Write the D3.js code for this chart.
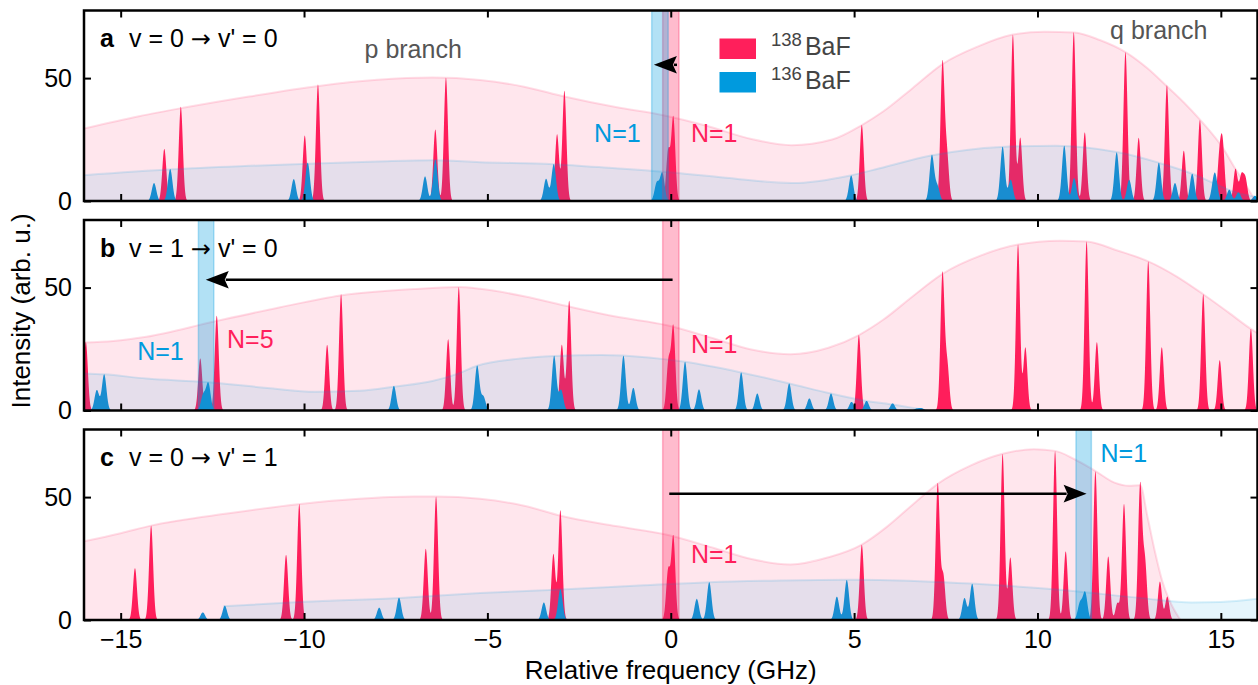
<!DOCTYPE html>
<html>
<head>
<meta charset="utf-8">
<script src="https://cdn.jsdelivr.net/npm/d3@7"></script>
<style>
  body { margin: 0; background: #fff; }
  svg { display: block; font-family: 'Liberation Sans', Arial, sans-serif; }
</style>
</head>
<body>
<svg id="chart" width="1258" height="685"></svg>
<script>
// axis ticks and panel titles
const xTicks = [-15, -10, -5, 0, 5, 10, 15]
const yTicks = [0, 50]
const panelLetters = ['a', 'b', 'c']
const panelTitles = [["v = 0 ", "v' = 0"], ["v = 1 ", "v' = 0"], ["v = 0 ", "v' = 1"]]

// line positions (GHz) and peak heights (arb. u.), 138BaF
const peaks138a = [[-13.81, 21.2], [-13.36, 38.3], [-9.98, 26.6], [-9.62, 47.4], [-6.42, 29.1], [-6.13, 50.2],
    [-3.10, 27.1], [-2.90, 44.8], [-0.07, 20.1], [0.07, 33.8], [5.21, 30.9], [7.41, 55.6], [7.53, 18.3],
    [9.33, 67.6], [9.53, 25.7], [10.99, 68.7], [11.29, 27.9], [12.40, 60.6], [12.76, 25.7], [13.53, 47.1],
    [13.99, 20.5], [14.43, 32.9], [14.96, 16.0], [15.05, 21.7], [15.40, 13.0], [15.56, 10.0], [15.67, 8.8]]
const peaks138b = [[-15.95, 27.8], [-12.83, 21.2], [-12.38, 38.5], [-9.37, 26.7], [-8.99, 47.3], [-6.07, 29.0],
    [-5.78, 50.2], [-2.97, 26.7], [-2.77, 44.6], [-0.06, 19.8], [0.07, 33.7], [5.13, 30.7], [7.41, 55.5],
    [7.54, 18.1], [9.47, 67.5], [9.67, 25.6], [11.34, 68.8], [11.62, 27.8], [13.02, 60.7], [13.39, 25.7],
    [14.52, 47.3], [14.97, 20.5], [15.82, 33.2]]
const peaks138c = [[-14.61, 21.1], [-14.17, 38.4], [-10.49, 26.5], [-10.13, 47.2], [-6.68, 29.0], [-6.40, 50.2],
    [-3.20, 26.8], [-3.01, 44.6], [-0.07, 20.0], [0.07, 33.8], [5.21, 30.6], [7.28, 55.4], [7.43, 18.0],
    [9.05, 67.6], [9.26, 25.4], [10.48, 68.7], [10.77, 27.9], [11.58, 60.5], [11.93, 25.8], [12.18, 6.8],
    [12.36, 47.2], [12.80, 54.7], [12.93, 23.4], [13.34, 15.6], [13.54, 9.5]]

// 136BaF
const peaks136a = [[-14.09, 7.3], [-13.65, 13.0], [-10.28, 8.9], [-9.90, 15.6], [-6.70, 10.0], [-6.42, 16.7],
    [-3.40, 9.0], [-3.19, 15.0], [-0.38, 7.3], [-0.23, 11.3], [4.92, 10.4], [7.12, 18.5], [7.27, 5.9],
    [9.05, 22.1], [9.27, 8.6], [10.73, 22.5], [11.00, 9.3], [12.16, 19.8], [12.50, 8.6], [13.31, 15.6],
    [13.75, 7.3], [14.22, 11.1], [14.80, 5.7], [14.86, 7.3], [15.23, 4.6], [15.48, 3.5], [15.93, 2.1]]
const peaks136b = [[-15.65, 8.3], [-15.45, 14.7], [-12.75, 6.2], [-12.61, 11.0], [-7.55, 10.0], [-5.28, 18.2],
    [-5.11, 5.6], [-3.18, 22.2], [-2.99, 8.3], [-1.29, 22.3], [-1.02, 9.2], [0.39, 19.8], [0.77, 8.6],
    [1.92, 15.5], [2.36, 6.9], [3.23, 11.0], [3.78, 4.9], [4.37, 6.9], [4.93, 3.5], [5.34, 3.9],
    [6.05, 2.9], [6.71, 0.8], [6.84, 0.9]]
const peaks136c = [[-12.76, 3.1], [-12.16, 5.8], [-7.95, 5.0], [-7.41, 9.1], [-3.46, 7.1], [-3.01, 12.5],
    [0.71, 8.6], [1.05, 15.4], [4.53, 9.5], [4.80, 16.3], [8.01, 8.9], [8.22, 14.7], [11.16, 6.8], [11.30, 11.1]]

// simulated envelopes (GHz, arb. u.)
const env138a = [[-16, 29.5], [-14.5, 34.5], [-13.3, 37.9], [-11.5, 42.5], [-9.6, 46.8], [-8, 49.3], [-6.5, 50.2],
    [-5.2, 49.2], [-4, 46.5], [-2.9, 42.5], [-1.5, 38.2], [-0.2, 34.9], [1, 30.5], [2.2, 25.2], [3.3, 22.7],
    [4.4, 25], [5.2, 30.8], [5.8, 36.5], [6.6, 46], [7.4, 55.6], [8.4, 63], [9.3, 67.6], [10.2, 68.9],
    [11, 68.6], [11.7, 65.5], [12.4, 60.6], [13.0, 54], [13.5, 47.1], [14.0, 40], [14.45, 32.8],
    [15.05, 21.7], [15.4, 13], [15.7, 6], [15.95, 0]]
const env136a = [[-16, 10.5], [-13.6, 12.9], [-11.5, 14.3], [-9.7, 15.3], [-8, 16.1], [-6.5, 16.6], [-5.2, 15.8],
    [-3.2, 15], [-1.5, 13.3], [-0.2, 11.9], [1.5, 9.5], [3.3, 7.3], [4.9, 10.4], [5.7, 13.3], [7.1, 18.5],
    [9.0, 22], [10.5, 22.5], [12.2, 19.8], [13.3, 15.6], [14.2, 11.2], [14.8, 7.3], [15.4, 3.6], [16, 1.5]]
const env138b = [[-16, 27.7], [-15.2, 28.3], [-14.3, 30], [-12.45, 36.2], [-10.65, 42], [-9.0, 46.8], [-7.0, 49.4],
    [-5.8, 50.2], [-5.2, 49.5], [-4, 46.5], [-2.77, 42.3], [-1.5, 38.2], [-0.1, 34.7], [1.2, 29.2], [2.2, 24.8],
    [3.26, 22.9], [4.3, 25.5], [5.13, 30.7], [5.8, 37], [6.6, 46.5], [7.4, 55.5], [8.5, 63.3], [9.47, 67.5],
    [10.6, 69.1], [11.34, 68.8], [12.2, 65], [13.02, 60.7], [13.8, 54.5], [14.52, 47.3], [15.2, 40],
    [15.82, 33.2], [16, 31.5]]
const env136b = [[-16, 15.1], [-15.45, 14.7], [-14.3, 13], [-12.7, 11.6], [-11, 9.2], [-9.7, 7.6], [-8.5, 8],
    [-7.5, 9.8], [-6.5, 12], [-5.8, 15], [-5.28, 18.2], [-4.2, 21], [-3.18, 22.2], [-1.9, 22.6], [-0.6, 21.6],
    [0.39, 19.8], [1.92, 15.5], [3.23, 11], [4.37, 6.9], [5.3, 4], [6.0, 2.5], [7.0, 0]]
const env138c = [[-16, 32], [-15, 35.3], [-14.17, 38.4], [-12, 43.5], [-10.1, 47.2], [-8.5, 49.3], [-7.0, 50.2],
    [-6.4, 50.2], [-5.2, 49.3], [-4, 46.5], [-3.0, 42.4], [-1.5, 38.2], [-0.1, 34.7], [1.2, 29.2], [2.2, 24.8],
    [3.26, 22.6], [4.3, 25.5], [5.21, 30.7], [5.9, 38], [6.6, 47], [7.28, 55.4], [8.2, 63], [9.05, 67.6],
    [9.9, 69.5], [10.48, 68.8], [11.0, 65.5], [11.58, 60.6], [12.1, 55.9], [12.5, 54.6], [12.8, 54.8],
    [13.0, 42], [13.2, 28], [13.4, 16], [13.6, 8], [13.9, 0]]
const env136c = [[-12.2, 5.6], [-10, 7.4], [-7.4, 9], [-5.2, 11], [-3, 12.4], [-1, 13.9], [1.05, 15.4], [3, 16.1],
    [4.8, 16.4], [5.7, 16.3], [8.2, 14.8], [10.6, 12.3], [12.85, 8.9], [14.2, 7.1], [15, 7.3], [16, 8.6]]

// laser-addressed N=1 lines: [start, end] in GHz
const band138 = [-0.22, 0.225]
const bands136 = [[-0.52, -0.07], [-12.88, -12.46], [11.05, 11.47]]
// arrows: from, to, height
const arrows = [[0.17, -0.46, 55.4], [0.05, -12.68, 53.2], [-0.04, 11.34, 51.4]]
// N labels: x, y, text, isotope
const nLabels = [
    [[-2.09, 24, 'N=1', 136], [0.55, 24, 'N=1', 138]],
    [[-14.55, 20.5, 'N=1', 136], [-12.10, 25.3, 'N=5', 138], [0.55, 23.3, 'N=1', 138]],
    [[0.55, 23.1, 'N=1', 138], [11.72, 64.4, 'N=1', 136]]
]

const panels = [
    { p138: peaks138a, p136: peaks136a, e138: env138a, e136: env136a },
    { p138: peaks138b, p136: peaks136b, e138: env138b, e136: env136b },
    { p138: peaks138c, p136: peaks136c, e138: env138c, e136: env136c }
]

const red = '#ff1f5b'
const blue = '#009ade'

let svg = d3.select('#chart')
let left = 84, right = 1257.5
let tops = [10.5, 220, 429.5], ph = 190.5

let x = d3.scaleLinear().domain([-16, 16]).range([left, right])

// sampled line profile
let grid = d3.range(-16, 16.0001, 0.004)
let spectrum = (peaks, sigma) => {
    return grid.map((v) => {
        return [v, d3.sum(peaks, (p) => p[1] * Math.exp(-((v - p[0]) ** 2) / (2 * sigma * sigma)))]
    })
}

let arrowHead = (tx, ty, dir) => {
    return 'M' + tx + ',' + ty +
        'L' + (tx - dir * 23) + ',' + (ty - 8.8) +
        'L' + (tx - dir * 19) + ',' + ty +
        'L' + (tx - dir * 23) + ',' + (ty + 8.8) + 'Z'
}

panels.forEach((panel, i) => {
    let top = tops[i]
    let y = d3.scaleLinear().domain([0, 77.5]).range([top + ph, top])
    let g = svg.append('g')

    svg.append('clipPath').attr('id', 'clip' + i)
        .append('rect')
        .attr('x', left).attr('y', top)
        .attr('width', right - left).attr('height', ph)

    let plot = g.append('g').attr('clip-path', 'url(#clip' + i + ')')

    let area = d3.area().x((d) => x(d[0])).y0(y(0)).y1((d) => y(d[1]))
    let smooth = d3.area().curve(d3.curveMonotoneX).x((d) => x(d[0])).y0(y(0)).y1((d) => y(d[1]))
    let smoothLine = d3.line().curve(d3.curveMonotoneX).x((d) => x(d[0])).y((d) => y(d[1]))

    plot.append('path').attr('d', area(spectrum(panel.p138, 0.055))).attr('fill', red)
    plot.append('path').attr('d', area(spectrum(panel.p136, 0.062))).attr('fill', blue)

    plot.append('path').attr('d', smooth(panel.e138)).attr('fill', red).attr('fill-opacity', 0.11)
    plot.append('path').attr('d', smoothLine(panel.e138)).attr('fill', 'none')
        .attr('stroke', red).attr('stroke-opacity', 0.15).attr('stroke-width', 2)
    plot.append('path').attr('d', smooth(panel.e136)).attr('fill', blue).attr('fill-opacity', 0.1)
    plot.append('path').attr('d', smoothLine(panel.e136)).attr('fill', 'none')
        .attr('stroke', blue).attr('stroke-opacity', 0.15).attr('stroke-width', 2)

    // panel title
    g.append('text').attr('x', 100).attr('y', top + 36.5)
        .attr('font-size', 25).attr('font-weight', 'bold').text(panelLetters[i])
    let title = g.append('text').attr('x', 129).attr('y', top + 36.5).attr('font-size', 25)
    title.append('tspan').text(panelTitles[i][0])
    title.append('tspan').attr('font-family', "'DejaVu Sans', sans-serif").attr('font-size', 24)
        .text('\u2192')
    title.append('tspan').text(' ' + panelTitles[i][1])

    // highlighted lines
    let bands = [[band138, red], [bands136[i], blue]]
    bands.forEach((b) => {
        plot.append('rect')
            .attr('x', x(b[0][0])).attr('width', x(b[0][1]) - x(b[0][0]))
            .attr('y', top).attr('height', ph)
            .attr('fill', b[1]).attr('fill-opacity', 0.3)
            .attr('stroke', b[1]).attr('stroke-opacity', 0.3).attr('stroke-width', 1.5)
    })

    // arrow
    let a = arrows[i]
    let dir = a[1] > a[0] ? 1 : -1
    let tx = x(a[1]), ty = y(a[2])
    if (Math.abs(x(a[1]) - x(a[0])) > 23) {
        g.append('line')
            .attr('x1', x(a[0])).attr('x2', tx - dir * 20)
            .attr('y1', ty).attr('y2', ty)
            .attr('stroke', 'black').attr('stroke-width', 2.5)
    }
    g.append('path').attr('d', arrowHead(tx, ty, dir)).attr('fill', 'black')

    // N labels
    nLabels[i].forEach((n) => {
        g.append('text').attr('x', x(n[0])).attr('y', y(n[1]))
            .attr('font-size', 25).attr('fill', n[3] === 138 ? red : blue)
            .text(n[2])
    })

    if (i === 0) {
        g.append('text').attr('x', x(-8.35)).attr('y', y(58)).attr('font-size', 25)
            .attr('fill', '#555').text('p branch')
        g.append('text').attr('x', x(11.98)).attr('y', y(66)).attr('font-size', 25)
            .attr('fill', '#555').text('q branch')

        // legend
        let legend = [['138', red], ['136', blue]]
        legend.forEach((l, k) => {
            let ly = top + 28 + k * 33.5
            g.append('rect').attr('x', 719.5).attr('y', ly).attr('width', 36.5).attr('height', 20.5)
                .attr('fill', l[1])
            let t = g.append('text').attr('x', 771).attr('y', ly + 16.5).attr('fill', '#444')
            t.append('tspan').attr('font-size', 18.5).attr('dy', -9).text(l[0])
            t.append('tspan').attr('font-size', 25).attr('dy', 9).attr('dx', 3).text('BaF')
        })
    }

    // axes with inward ticks on all sides
    let styleAxis = (sel) => {
        sel.select('.domain').remove()
        sel.selectAll('.tick line').attr('stroke-width', 2)
        sel.selectAll('.tick text').attr('font-size', 25).attr('fill', 'black')
            .attr('font-family', "'Liberation Sans', Arial, sans-serif")
    }
    g.append('g').attr('transform', 'translate(0,' + (top + ph) + ')')
        .call(d3.axisBottom(x).tickValues(xTicks).tickSize(-7).tickPadding(10)
            .tickFormat(i === 2 ? d3.format('') : ''))
        .call(styleAxis)
    g.append('g').attr('transform', 'translate(0,' + top + ')')
        .call(d3.axisTop(x).tickValues(xTicks).tickSize(-7).tickFormat(''))
        .call(styleAxis)
    g.append('g').attr('transform', 'translate(' + left + ',0)')
        .call(d3.axisLeft(y).tickValues(yTicks).tickSize(-7).tickPadding(12))
        .call(styleAxis)
    g.append('g').attr('transform', 'translate(' + right + ',0)')
        .call(d3.axisRight(y).tickValues(yTicks).tickSize(-7).tickFormat(''))
        .call(styleAxis)

    g.append('rect').attr('x', left).attr('y', top)
        .attr('width', right - left).attr('height', ph)
        .attr('fill', 'none').attr('stroke', 'black').attr('stroke-width', 2.5)
})

svg.append('text').attr('x', (left + right) / 2).attr('y', 679)
    .attr('text-anchor', 'middle').attr('font-size', 26)
    .text('Relative frequency (GHz)')
svg.append('text').attr('transform', 'translate(30,311) rotate(-90)')
    .attr('text-anchor', 'middle').attr('font-size', 26)
    .text('Intensity (arb. u.)')
</script>
</body>
</html>
